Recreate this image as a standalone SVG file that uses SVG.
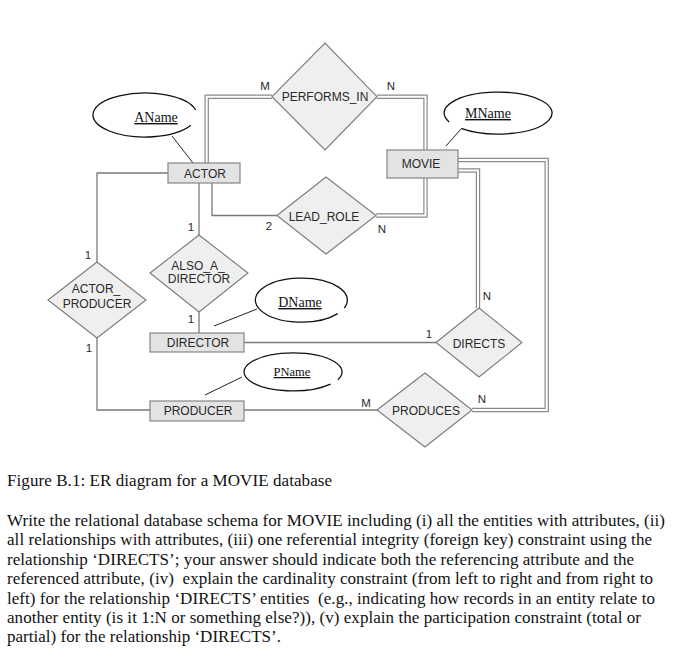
<svg xmlns="http://www.w3.org/2000/svg" width="698" height="660" viewBox="0 0 698 660">
<style>
.ent{fill:#e3e3e3;stroke:#858585;stroke-width:1.2}
.rel{fill:#efefef;stroke:#7a7a7a;stroke-width:1.1}
.lbl{font-family:"Liberation Sans",Arial,sans-serif;font-size:12px;fill:#2a2a2a;text-anchor:middle}
.card{font-family:"Liberation Sans",Arial,sans-serif;font-size:11.5px;fill:#2a2a2a;text-anchor:middle}
.att{fill:none;stroke:#111;stroke-width:1.3}
.attl{stroke:#222;stroke-width:1}
.attt{font-family:"Liberation Serif","Times New Roman",serif;font-size:14px;fill:#111;text-anchor:middle;text-decoration:underline}
.one{fill:none;stroke:#7a7a7a;stroke-width:1.3}
.dblo{fill:none;stroke:#8a8a8a;stroke-width:4.4}
.dbli{fill:none;stroke:#fff;stroke-width:2}
.txt{font-family:"Liberation Serif","Times New Roman",serif;font-size:17px;fill:#111;white-space:pre}
</style>
<rect width="698" height="660" fill="#fff"/>
<g id="connectors">
<path class="one" d="M168,173 H97 V262"/>
<path class="one" d="M97,338 V410 H150"/>
<path class="one" d="M199,183 V235"/>
<path class="one" d="M199,312 V333"/>
<path class="one" d="M212,183 V215.5 H277"/>
<path class="one" d="M244,342.5 H436"/>
<path class="one" d="M244,410 H377"/>
<g id="double-lines">
<path class="dblo" d="M206.7,163 V96.7 H272"/>
<path class="dblo" d="M377,96.7 H425.5 V150"/>
<path class="dblo" d="M376,215.5 H425.5 V178"/>
<path class="dblo" d="M458,170.5 H478 V308"/>
<path class="dblo" d="M458,160 H546.7 V410 H472"/>
<path class="dbli" d="M206.7,163 V96.7 H272"/>
<path class="dbli" d="M377,96.7 H425.5 V150"/>
<path class="dbli" d="M376,215.5 H425.5 V178"/>
<path class="dbli" d="M458,170.5 H478 V308"/>
<path class="dbli" d="M458,160 H546.7 V410 H472"/>
</g>
<line class="attl" x1="193" y1="163" x2="172" y2="136"/>
<line class="attl" x1="446" y1="146" x2="461" y2="129"/>
<line class="attl" x1="214" y1="326" x2="257" y2="309"/>
<line class="attl" x1="205" y1="395" x2="242" y2="377"/>
</g>
<g id="AName">
<path class="att" d="M190.9,125.3 A52,22 0 1 1 195.6,110"/>
<text class="attt" x="156" y="122">AName</text>
</g>
<g id="MName">
<path class="att" d="M449.1,121.9 A54,21 0 1 1 461.2,128.4"/>
<text class="attt" x="488" y="118">MName</text>
</g>
<g id="DName">
<path class="att" d="M337.7,313.6 A46,22 0 1 1 344.3,308"/>
<text class="attt" x="300" y="307">DName</text>
</g>
<g id="PName">
<path class="att" d="M330.5,384.2 A49,19 0 1 1 337.8,379.7"/>
<text class="attt" x="292" y="376" style="font-size:12.5px">PName</text>
</g>
<g id="ACTOR">
<rect class="ent" x="168" y="163" width="72" height="20"/>
<text class="lbl" x="205" y="177.5">ACTOR</text>
</g>
<g id="MOVIE">
<rect class="ent" x="387" y="150" width="71" height="28"/>
<text class="lbl" x="421" y="168">MOVIE</text>
</g>
<g id="DIRECTOR">
<rect class="ent" x="150" y="333" width="94" height="19"/>
<text class="lbl" x="198" y="347">DIRECTOR</text>
</g>
<g id="PRODUCER">
<rect class="ent" x="150" y="401" width="94" height="20"/>
<text class="lbl" x="198" y="415">PRODUCER</text>
</g>
<g id="PERFORMS_IN">
<polygon class="rel" points="272,96.7 325,43 377,96.7 325,150"/>
<text class="lbl" x="325" y="101">PERFORMS_IN</text>
</g>
<g id="LEAD_ROLE">
<polygon class="rel" points="277,215.5 326,177 376,215.5 326,254"/>
<text class="lbl" x="324" y="221">LEAD_ROLE</text>
</g>
<g id="ALSO_A_DIRECTOR">
<polygon class="rel" points="150,273 199,235 248,273 199,312"/>
<text class="lbl" x="198" y="270">ALSO_A_</text>
<text class="lbl" x="199" y="283">DIRECTOR</text>
</g>
<g id="ACTOR_PRODUCER">
<polygon class="rel" points="48,300 97,262 146,300 97,338"/>
<text class="lbl" x="96" y="293">ACTOR_</text>
<text class="lbl" x="97" y="308">PRODUCER</text>
</g>
<g id="DIRECTS">
<polygon class="rel" points="436,342.5 479,308 522,342.5 479,377"/>
<text class="lbl" x="479" y="348">DIRECTS</text>
</g>
<g id="PRODUCES">
<polygon class="rel" points="377,410 425,373 472,410 425,447"/>
<text class="lbl" x="426" y="415">PRODUCES</text>
</g>
<g id="cardinalities">
<text class="card" x="265" y="90">M</text>
<text class="card" x="391" y="90">N</text>
<text class="card" x="269" y="230">2</text>
<text class="card" x="382" y="233">N</text>
<text class="card" x="191" y="231">1</text>
<text class="card" x="88" y="259">1</text>
<text class="card" x="191" y="323">1</text>
<text class="card" x="89" y="352">1</text>
<text class="card" x="429" y="338">1</text>
<text class="card" x="487" y="300">N</text>
<text class="card" x="482" y="403">N</text>
<text class="card" x="366" y="407">M</text>
</g>
<g id="caption">
<text class="txt" x="7" y="486" textLength="325" lengthAdjust="spacing">Figure B.1: ER diagram for a MOVIE database</text>
<text class="txt" x="7" y="526" textLength="658" lengthAdjust="spacing">Write the relational database schema for MOVIE including (i) all the entities with attributes, (ii)</text>
<text class="txt" x="7" y="545.4" textLength="645" lengthAdjust="spacing">all relationships with attributes, (iii) one referential integrity (foreign key) constraint using the</text>
<text class="txt" x="7" y="564.8" textLength="627" lengthAdjust="spacing">relationship ‘DIRECTS’; your answer should indicate both the referencing attribute and the</text>
<text class="txt" x="7" y="584.2" textLength="646" lengthAdjust="spacing">referenced attribute, (iv)  explain the cardinality constraint (from left to right and from right to</text>
<text class="txt" x="7" y="603.6" textLength="648" lengthAdjust="spacing">left) for the relationship ‘DIRECTS’ entities  (e.g., indicating how records in an entity relate to</text>
<text class="txt" x="7" y="623" textLength="634" lengthAdjust="spacing">another entity (is it 1:N or something else?)), (v) explain the participation constraint (total or</text>
<text class="txt" x="7" y="642.4" textLength="274" lengthAdjust="spacing">partial) for the relationship ‘DIRECTS’.</text>
</g>
</svg>
